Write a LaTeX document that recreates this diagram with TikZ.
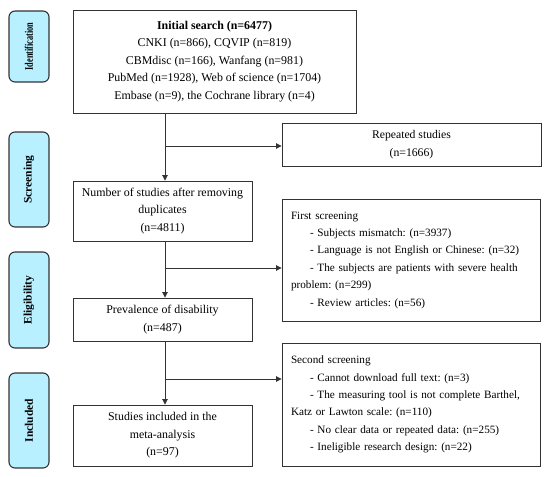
\documentclass[tikz,border=0pt]{standalone}
\usepackage{fontspec}
\setmainfont{Liberation Serif}
\usetikzlibrary{arrows.meta}
\definecolor{labcyan}{HTML}{B8F0FF}
\definecolor{edge}{HTML}{333333}
\begin{document}
\frenchspacing
\begin{tikzpicture}[x=1pt,y=-1pt,
  lab/.style={draw=edge, line width=1.1pt, rounded corners=6pt, fill=labcyan, minimum width=40pt, inner sep=0pt},
  box/.style={draw=edge, line width=0.9pt, inner sep=0pt, align=center, font=\fontsize{11.9}{17.5}\selectfont},
  lbox/.style={box, align=left, inner xsep=9pt, text width=240pt, font=\fontsize{11.2}{17.4}\selectfont},
  arr/.style={-{Triangle[length=5.5pt,width=5.5pt]}, line width=0.9pt, draw=edge}]
\useasboundingbox (0,0) rectangle (550,477);

% stage labels
\node[lab, minimum height=71pt] (idlab) at (29,46.5) {\rotatebox{90}{\bfseries\fontsize{11.5}{12}\selectfont\scalebox{0.72}[1]{Identification}}};
\node[lab, minimum height=95pt] (scrlab) at (29,179.5) {\rotatebox{90}{\bfseries\fontsize{11.5}{12}\selectfont Screening}};
\node[lab, minimum height=96pt] (elilab) at (29,300) {\rotatebox{90}{\bfseries\fontsize{11.5}{12}\selectfont Eligibility}};
\node[lab, minimum height=95pt] (inclab) at (29,420.5) {\rotatebox{90}{\bfseries\fontsize{11.5}{12}\selectfont Included}};

% main column
\node[box, minimum width=283pt, minimum height=103pt] (init) at (214.5,61.5)
  {\textbf{Initial search (n=6477)}\\CNKI (n=866), CQVIP (n=819)\\CBMdisc (n=166), Wanfang (n=981)\\PubMed (n=1928), Web of science (n=1704)\\Embase (n=9), the Cochrane library (n=4)};
\node[box, minimum width=179pt, minimum height=60pt] (dup) at (162.5,211)
  {Number of studies after removing\\duplicates\\(n=4811)};
\node[box, minimum width=179pt, minimum height=43pt] (prev) at (162.5,319.5)
  {Prevalence of disability\\(n=487)};
\node[box, minimum width=179pt, minimum height=61pt] (incl) at (162.5,435.5)
  {Studies included in the\\meta-analysis\\(n=97)};

% right column
\node[box, minimum width=259pt, minimum height=43pt, font=\fontsize{11.7}{17.5}\selectfont] (rep) at (411.5,144.5)
  {Repeated studies\\(n=1666)};
\node[lbox, minimum height=122pt] (first) at (411,260)
  {First screening\\
   \hspace*{19pt}- Subjects mismatch: (n=3937)\\
   \hspace*{19pt}- Language is not English or Chinese: (n=32)\\
   \hspace*{19pt}- The subjects are patients with severe health\\
   problem: (n=299)\\
   \hspace*{19pt}- Review articles: (n=56)};
\node[lbox, minimum height=123pt] (second) at (411,404.5)
  {Second screening\\
   \hspace*{19pt}- Cannot download full text: (n=3)\\
   \hspace*{19pt}- The measuring tool is not complete Barthel,\\
   Katz or Lawton scale: (n=110)\\
   \hspace*{19pt}- No clear data or repeated data: (n=255)\\
   \hspace*{19pt}- Ineligible research design: (n=22)};

% connectors
\coordinate (b1) at (165,146);
\coordinate (b2) at (165,268);
\coordinate (b3) at (165,379);
\draw[arr] ([xshift=2.5pt]dup.north |- init.south) -- ([xshift=2.5pt]dup.north);
\draw[arr] ([xshift=2.5pt]prev.north |- dup.south) -- ([xshift=2.5pt]prev.north);
\draw[arr] ([xshift=2.5pt]incl.north |- prev.south) -- ([xshift=2.5pt]incl.north);
\draw[arr] (b1) -- (b1 -| rep.west);
\draw[arr] (b2) -- (b2 -| first.west);
\draw[arr] (b3) -- (b3 -| second.west);
\end{tikzpicture}
\end{document}
